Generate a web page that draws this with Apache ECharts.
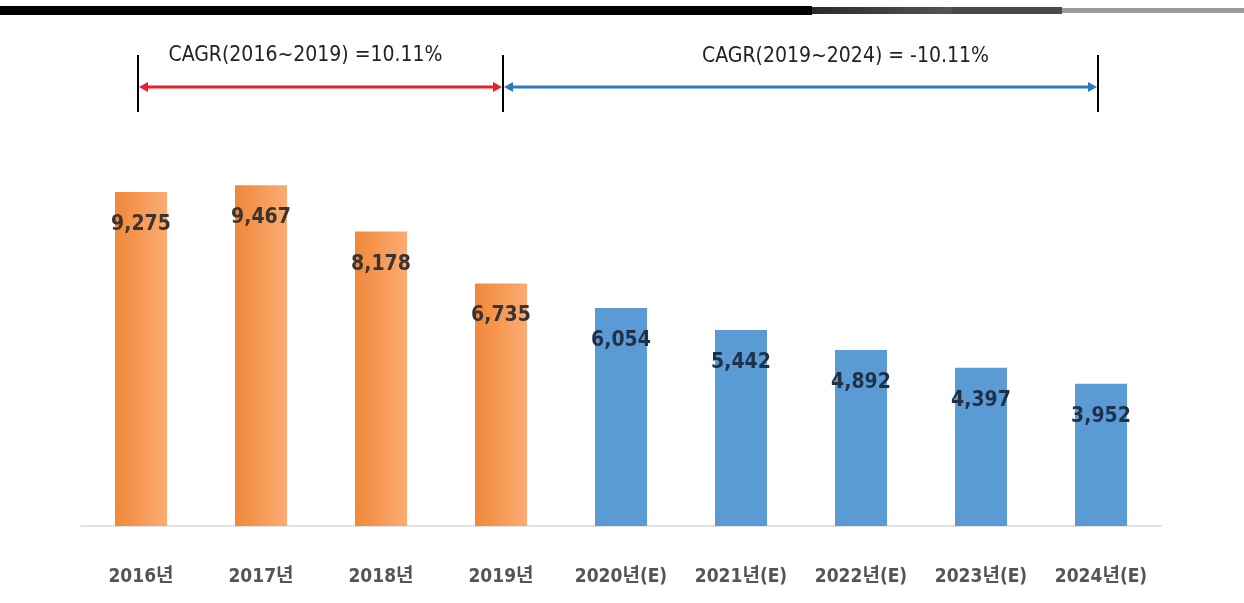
<!DOCTYPE html>
<html>
<head>
<meta charset="utf-8">
<script src="https://cdn.jsdelivr.net/npm/echarts@6/dist/echarts.min.js"></script>
<style>
  html, body { margin: 0; padding: 0; background: #fff; }
  #chart { width: 1244px; height: 603px; }
</style>
</head>
<body>
<div id="chart"></div>
<script>
const categories = ["2016년", "2017년", "2018년", "2019년", "2020년(E)", "2021년(E)", "2022년(E)", "2023년(E)", "2024년(E)"];
const values = [9275, 9467, 8178, 6735, 6054, 5442, 4892, 4397, 3952];
const actualCount = 4; // first 4 are actual (orange), rest estimates (blue)
const cagrLabels = ["CAGR(2016~2019) =10.11%", "CAGR(2019~2024) = -10.11%"];

const FONT = '"DejaVu Sans Condensed", "Liberation Sans Narrow", "Noto Sans CJK KR", sans-serif';

const chart = echarts.init(document.getElementById("chart"));

const orange = new echarts.graphic.LinearGradient(0, 0, 1, 0, [
  { offset: 0, color: "#f0883a" },
  { offset: 1, color: "#fbab72" },
]);
const blue = "#5b9bd5";

const barData = values.map((v, i) => ({
  value: v,
  itemStyle: { color: i < actualCount ? orange : blue },
  label: { color: i < actualCount ? "#3b3330" : "#1e3148" },
}));

chart.setOption({
  animation: false,
  grid: { left: 81, right: 83, top: 166, bottom: 77 },
  xAxis: {
    type: "category",
    data: categories,
    axisLine: { lineStyle: { color: "#d9d9d9", width: 1.5 } },
    axisTick: { show: false },
    axisLabel: {
      interval: 0,
      margin: 42,
      color: "#555555",
      fontFamily: FONT,
      fontSize: 19,
      fontWeight: "bold",
    },
  },
  yAxis: {
    type: "value",
    min: 0,
    max: 10000,
    show: false,
    splitLine: { show: false },
  },
  series: [
    {
      type: "bar",
      data: barData,
      barWidth: 52,
      label: {
        show: true,
        position: "insideTop",
        distance: 22,
        fontFamily: FONT,
        fontSize: 21,
        fontWeight: "bold",
        formatter: (p) => p.value.toLocaleString("en-US"),
      },
    },
  ],
});

// annotations above the bars, placed from the category axis
function px(i) {
  return chart.convertToPixel({ xAxisIndex: 0 }, categories[i]);
}
const x0 = px(0) - 3, x1 = px(actualCount - 1) + 2, x2 = px(categories.length - 1) - 3;
const arrowY = 87;

function arrowLine(a, b, color) {
  return [
    { type: "line", shape: { x1: a + 8, y1: arrowY, x2: b - 8, y2: arrowY }, style: { stroke: color, lineWidth: 3 } },
    { type: "polygon", shape: { points: [[a + 1, arrowY], [a + 10, arrowY - 5], [a + 10, arrowY + 5]] }, style: { fill: color } },
    { type: "polygon", shape: { points: [[b - 1, arrowY], [b - 10, arrowY - 5], [b - 10, arrowY + 5]] }, style: { fill: color } },
  ];
}

const graphics = [
  // header strip
  { type: "rect", shape: { x: 0, y: 6, width: 812, height: 9 }, style: { fill: "#000" } },
  { type: "rect", shape: { x: 812, y: 7, width: 140, height: 7 }, style: { fill: new echarts.graphic.LinearGradient(0, 0, 1, 0, [{ offset: 0, color: "#2a2a2a" }, { offset: 1, color: "#555" }]) } },
  { type: "rect", shape: { x: 952, y: 7, width: 110, height: 7 }, style: { fill: "#4a4a4a" } },
  { type: "rect", shape: { x: 1062, y: 8, width: 182, height: 5 }, style: { fill: "#9a9a9a" } },
  // vertical markers
  { type: "line", shape: { x1: x0, y1: 55, x2: x0, y2: 112 }, style: { stroke: "#000", lineWidth: 2 } },
  { type: "line", shape: { x1: x1, y1: 55, x2: x1, y2: 112 }, style: { stroke: "#000", lineWidth: 2 } },
  { type: "line", shape: { x1: x2, y1: 55, x2: x2, y2: 112 }, style: { stroke: "#000", lineWidth: 2 } },
  ...arrowLine(x0, x1, "#e8202a"),
  ...arrowLine(x1, x2, "#2e78c0"),
  {
    type: "text", x: (x0 + x1) / 2 - 15, y: 56,
    style: { text: cagrLabels[0], fontFamily: FONT, fontSize: 21, fill: "#222", align: "center", verticalAlign: "middle" },
  },
  {
    type: "text", x: (x1 + x2) / 2 + 45, y: 57,
    style: { text: cagrLabels[1], fontFamily: FONT, fontSize: 21, fill: "#222", align: "center", verticalAlign: "middle" },
  },
];

chart.setOption({ graphic: graphics });
</script>
</body>
</html>
